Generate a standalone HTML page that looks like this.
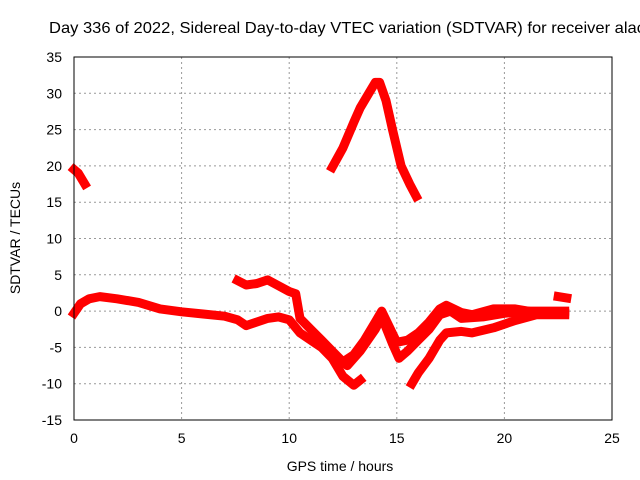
<!DOCTYPE html>
<html><head><meta charset="utf-8"><style>
body{margin:0;background:#fff}
svg{display:block;font-family:"Liberation Sans",sans-serif}
</style></head><body>
<svg id="chart" width="640" height="480" viewBox="0 0 640 480">
<rect width="640" height="480" fill="#fff"/>
<text x="49" y="33" font-size="16" textLength="596" lengthAdjust="spacingAndGlyphs" fill="#000">Day 336 of 2022, Sidereal Day-to-day VTEC variation (SDTVAR) for receiver alac</text>
<g id="grid"></g>
<g id="series"></g>
<rect x="74" y="57" width="538" height="363" fill="none" stroke="#000" stroke-width="1"/>
<g id="ticks"></g>
<text x="340" y="471" font-size="14" text-anchor="middle">GPS time / hours</text>
<text x="0" y="0" font-size="14" text-anchor="middle" transform="translate(20,238) rotate(-90)">SDTVAR / TECUs</text>
</svg>
<script>
const xTicks=[0,5,10,15,20,25];
const yTicks=[-15,-10,-5,0,5,10,15,20,25,30,35];
const s1x=[0,0.3,0.7,1.2,2,3,4,5,6,7,7.6,8,8.5,9,9.5,10,10.5,11,11.5,12,12.5,13,13.3];
const s1y=[-0.3,1,1.7,2,1.7,1.2,0.3,-0.1,-0.4,-0.7,-1.2,-2,-1.5,-1,-0.8,-1.2,-3,-4,-5,-6.5,-9,-10.2,-9.5];
const s2x=[7.6,8,8.5,9,9.5,10,10.3,10.5,11,11.5,12,12.5,13,13.5,14,14.3,15,15.5,16,16.5,17,17.3,18,18.5,19.5,20.5,21.5,22.8];
const s2y=[4.2,3.6,3.8,4.3,3.5,2.7,2.4,-1,-2.5,-4,-5.5,-7,-6,-4,-1.5,0,-4.3,-4,-3,-1.5,0.3,0.8,-0.2,-0.5,0.3,0.3,-0.2,-0.3];
const s3x=[12,12.7,13.3,14,14.3,14.8,15.1,15.5,16,16.5,17,17.5,18,19,20,21,22.8];
const s3y=[-6,-7.5,-5.5,-2.5,-0.8,-4.5,-6.5,-5.5,-4,-2.5,-0.5,0,-1,-0.8,-0.3,0,0];
const s4x=[15.7,16,16.5,17,17.3,18,18.5,19.5,20.5,21.5,22.8];
const s4y=[-10,-8.5,-6.5,-4,-3,-2.8,-3,-2.3,-1.3,-0.5,-0.5];
const s5x=[0,0.2,0.5];
const s5y=[19.5,19,17.5];
const s6x=[12,12.5,13,13.3,13.7,14,14.2,14.5,14.8,15.2,15.6,15.9];
const s6y=[19.8,22.5,26,28,30,31.5,31.5,29,25,20,17.5,15.8];
const s7x=[22.5,22.9];
const s7y=[2,1.8];
const X=h=>74+h*538/25;
const Y=v=>57+(35-v)*363/50;
const NS="http://www.w3.org/2000/svg";
const grid=document.getElementById('grid'),ticks=document.getElementById('ticks'),ser=document.getElementById('series');
function mk(t,a,p){const e=document.createElementNS(NS,t);for(const k in a)e.setAttribute(k,a[k]);p.appendChild(e);return e;}
xTicks.forEach(t=>{
  if(t>0&&t<25){const g=mk('line',{x1:X(t),x2:X(t),y1:57,y2:420,stroke:'#999','stroke-dasharray':'2,3'},grid);
  
  }
  const tl=mk('text',{x:X(t),y:443,'font-size':14,'text-anchor':'middle'},ticks);tl.textContent=t;
  
  
});
yTicks.forEach(t=>{
  if(t>-15&&t<35){const g=mk('line',{x1:74,x2:612,y1:Y(t),y2:Y(t),stroke:'#999','stroke-dasharray':'2,3'},grid);
  
  }
  const tl=mk('text',{x:62,y:Y(t)+5,'font-size':14,'text-anchor':'end'},ticks);tl.textContent=t;
  
  
});
[[s1x,s1y],[s2x,s2y],[s3x,s3y],[s4x,s4y],[s5x,s5y],[s6x,s6y],[s7x,s7y]].forEach((s,i)=>{
  const pts=s[0].map((h,j)=>X(h).toFixed(1)+','+Y(s[1][j]).toFixed(1)).join(' ');
  const p=mk('polyline',{points:pts,fill:'none',stroke:'#f00','stroke-width':9,'stroke-linejoin':'round','stroke-linecap':'square'},ser);
  
  
});
</script>
</body></html>
